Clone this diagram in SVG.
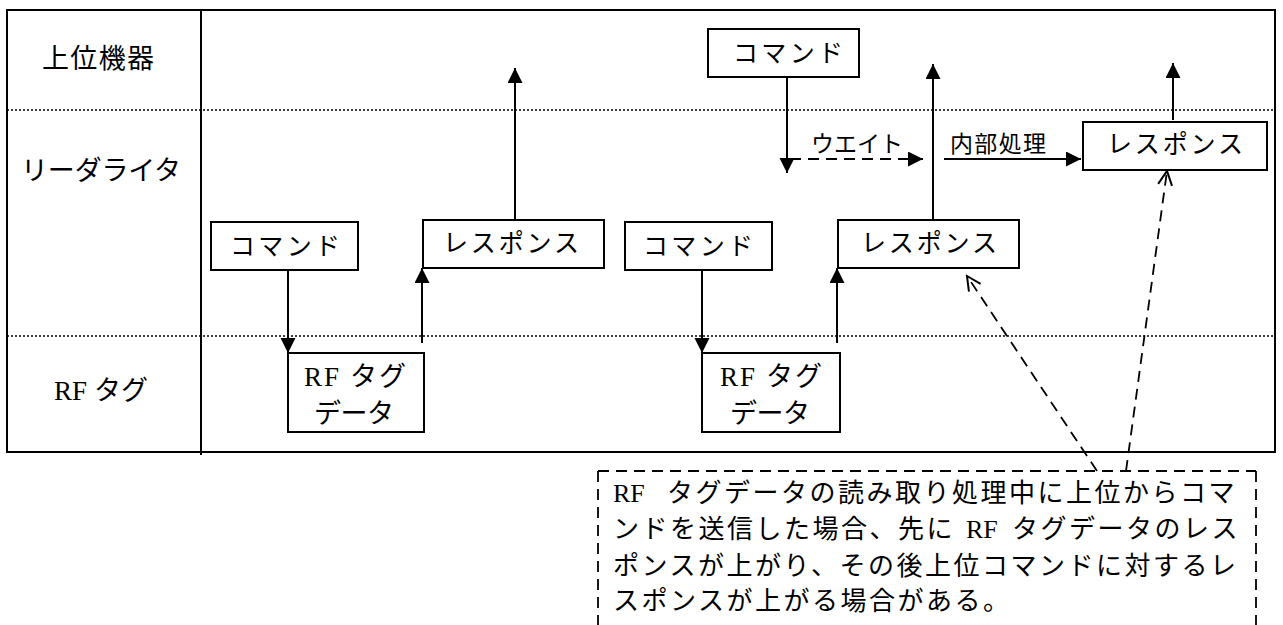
<svg xmlns="http://www.w3.org/2000/svg" width="1283" height="625" viewBox="0 0 1283 625">
<style>
.t{font-family:"Liberation Serif","Noto Sans CJK JP",serif;fill:#000;text-anchor:middle}
.lab{font-size:27px}
.bx{font-size:25px}
.el{font-size:23px}
.nt{font-size:26px;text-anchor:start;letter-spacing:2.5px}
.rf{font-size:27px;letter-spacing:2px}
.box{fill:#fff;stroke:#000;stroke-width:2}
.ln{stroke:#000;stroke-width:2;fill:none}
.dot{stroke:#000;stroke-width:1.5;stroke-dasharray:2,2;fill:none}
.dsh{stroke:#000;stroke-width:1.8;stroke-dasharray:11,7;fill:none}
</style>
<defs>
<marker id="ah" markerUnits="userSpaceOnUse" markerWidth="16" markerHeight="16" refX="15" refY="7.5" orient="auto">
<path d="M0,0 L15,7.5 L0,15 z" fill="#000"/>
</marker>
<marker id="oh" markerUnits="userSpaceOnUse" markerWidth="18" markerHeight="18" refX="15" refY="8" orient="auto">
<path d="M1,1 L15,8 L1,15" fill="none" stroke="#000" stroke-width="2"/>
</marker>
</defs>
<rect width="1283" height="625" fill="#fff"/>
<g id="frame">
<rect x="7" y="10" width="1268" height="442" class="ln"/>
<line x1="201" y1="10" x2="201" y2="455" class="ln"/>
<line x1="7" y1="110" x2="1275" y2="110" class="dot"/>
<line x1="7" y1="336" x2="1275" y2="336" class="dot"/>
</g>
<g id="lane-labels">
<text class="t lab" x="98" y="68" textLength="112">上位機器</text>
<text class="t lab" x="101" y="180" textLength="160">リーダライタ</text>
<text class="t lab" x="101" y="400" font-size="26">RF タグ</text>
</g>
<g id="connectors">
<line x1="288" y1="270" x2="288" y2="353" class="ln" marker-end="url(#ah)"/>
<line x1="422" y1="343" x2="422" y2="268" class="ln" marker-end="url(#ah)"/>
<line x1="515" y1="220" x2="515" y2="68" class="ln" marker-end="url(#ah)"/>
<line x1="702" y1="270" x2="702" y2="353" class="ln" marker-end="url(#ah)"/>
<line x1="837" y1="343" x2="837" y2="268" class="ln" marker-end="url(#ah)"/>
<line x1="933" y1="220" x2="933" y2="64" class="ln" marker-end="url(#ah)"/>
<line x1="787" y1="77" x2="787" y2="173" class="ln" marker-end="url(#ah)"/>
<line x1="790" y1="159" x2="923" y2="159" class="dsh" marker-end="url(#ah)"/>
<line x1="944" y1="159" x2="1081" y2="159" class="ln" marker-end="url(#ah)"/>
<line x1="1173" y1="120" x2="1173" y2="63" class="ln" marker-end="url(#ah)"/>
<line x1="1097" y1="471" x2="967" y2="276" class="dsh" marker-end="url(#oh)"/>
<line x1="1126" y1="471" x2="1167" y2="171" class="dsh" marker-end="url(#oh)"/>
</g>
<g id="cmd1">
<rect x="211" y="222" width="147" height="48" class="box"/>
<text class="t bx" x="285" y="255" textLength="110">コマンド</text>
</g>
<g id="resp1">
<rect x="423" y="220" width="181" height="48" class="box"/>
<text class="t bx" x="511" y="252" textLength="136">レスポンス</text>
</g>
<g id="rftag1">
<rect x="288" y="353" width="136" height="79" class="box"/>
<text class="t rf" x="356" y="386">RF タグ</text>
<text class="t lab" x="354" y="423" textLength="80">データ</text>
</g>
<g id="cmd-top">
<rect x="708" y="29" width="151" height="48" class="box"/>
<text class="t bx" x="788" y="62" textLength="110">コマンド</text>
</g>
<g id="cmd2">
<rect x="625" y="222" width="147" height="48" class="box"/>
<text class="t bx" x="698" y="255" textLength="110">コマンド</text>
</g>
<g id="resp2">
<rect x="838" y="220" width="181" height="48" class="box"/>
<text class="t bx" x="929" y="252" textLength="136">レスポンス</text>
</g>
<g id="resp3">
<rect x="1083" y="122" width="184" height="48" class="box"/>
<text class="t bx" x="1175" y="153" textLength="136">レスポンス</text>
</g>
<g id="rftag2">
<rect x="702" y="353" width="138" height="79" class="box"/>
<text class="t rf" x="772" y="386">RF タグ</text>
<text class="t lab" x="770" y="423" textLength="80">データ</text>
</g>
<g id="edge-labels">
<text class="t el" x="857" y="152" textLength="92">ウエイト</text>
<text class="t el" x="998" y="152" textLength="96">内部処理</text>
</g>
<g id="note">
<path d="M598,471 L1256,471 M598,471 L598,625 M1256,471 L1256,625" class="dsh"/>
<text class="t nt" y="502"><tspan x="613" letter-spacing="0">RF</tspan><tspan x="667">タグデータの読み取り処理中に上位からコマ</tspan></text>
<text class="t nt" y="538"><tspan x="613">ンドを送信した場合、先に</tspan><tspan x="966" letter-spacing="0">RF</tspan><tspan x="1012">タグデータのレス</tspan></text>
<text class="t nt" x="613" y="575">ポンスが上がり、その後上位コマンドに対するレ</text>
<text class="t nt" x="613" y="610">スポンスが上がる場合がある。</text>
</g>
</svg>
